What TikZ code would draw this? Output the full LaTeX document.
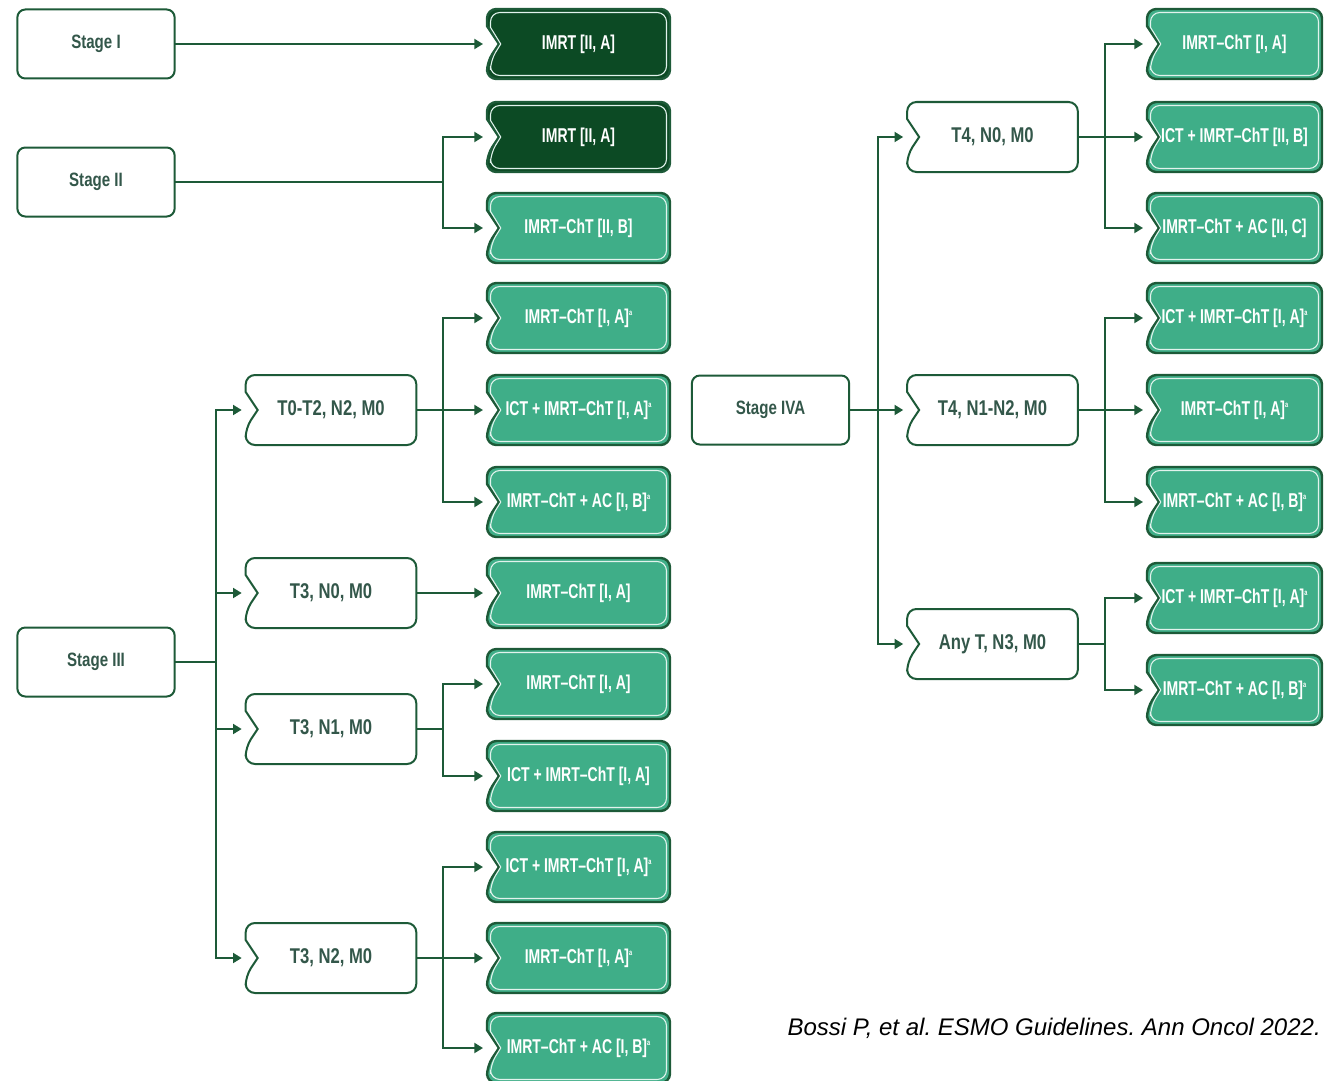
\documentclass[tikz,border=0pt]{standalone}
\usepackage{fontspec}
\setmainfont{Liberation Sans}[FakeStretch=0.78]
\newfontfamily\gfont{Liberation Sans}[FakeStretch=0.70]
\newfontfamily\citefont{Liberation Sans}
\usetikzlibrary{arrows.meta,calc,backgrounds}
\definecolor{lg}{HTML}{1D5A38}
\definecolor{darkfill}{HTML}{0C4A24}
\definecolor{gfill}{HTML}{3FAE88}
\definecolor{txtdark}{HTML}{33574A}
\newcommand\notchpath[2]{($(#1.west)+(#2,-18+0.4*#2)$) [rounded corners=7pt] -- ($(#1.north west)+(#2,#2)$) -- ($(#1.north east)+(-#2,#2)$) -- ($(#1.south east)+(-#2,-#2)$) -- ($(#1.south west)+(#2,-#2)$) -- ($(#1.west)+(#2,18-0.4*#2)$) [sharp corners] -- ($(#1.west)+(12+0.5*#2,0)$) -- cycle}
\newcommand\supa{\raisebox{0.75ex}{\fontsize{6}{6}\selectfont a}}
\begin{document}
\frenchspacing
\begin{tikzpicture}[x=0.75pt,y=-0.75pt,
  base/.style={rectangle,inner sep=0pt,outer sep=0pt,minimum height=52.5pt,align=center},
  stagebox/.style={base,draw=lg,line width=1.5pt,rounded corners=6pt,fill=white,text=txtdark,minimum width=118pt,minimum height=51.75pt,font=\bfseries\fontsize{14.5}{17}\selectfont},
  tbox/.style={base,text=txtdark,minimum width=128pt,font=\bfseries\fontsize{16}{18}\selectfont},
  gbox/.style={base,text=white,minimum width=137.25pt,font=\gfont\bfseries\fontsize{15}{17}\selectfont},
  rbox/.style={gbox,minimum width=131.25pt},
  conn/.style={draw=lg,line width=1.5pt},
  arr/.style={conn,-{Triangle[length=6.5pt,width=7.5pt]},shorten >=3pt}]
\useasboundingbox (0,0) rectangle (1324,1081);
% stage boxes
\node[stagebox] (s1) at (96,44) {Stage I};
\node[stagebox] (s2) at (96,182) {Stage II};
\node[stagebox] (s3) at (96,662) {Stage III};
\node[stagebox] (s4) at (770.5,410) {Stage IVA};
% left treatment column
\node[gbox] (a1) at (578.5,44) {IMRT [II, A]};
\node[gbox] (a2) at (578.5,137) {IMRT [II, A]};
\node[gbox] (a3) at (578.5,228) {IMRT–ChT [II, B]};
\node[gbox] (a4) at (578.5,318) {IMRT–ChT [I, A]\supa};
\node[gbox] (a5) at (578.5,410) {ICT + IMRT–ChT [I, A]\supa};
\node[gbox] (a6) at (578.5,502) {IMRT–ChT + AC [I, B]\supa};
\node[gbox] (a7) at (578.5,593) {IMRT–ChT [I, A]};
\node[gbox] (a8) at (578.5,684) {IMRT–ChT [I, A]};
\node[gbox] (a9) at (578.5,776) {ICT + IMRT–ChT [I, A]};
\node[gbox] (a10) at (578.5,867) {ICT + IMRT–ChT [I, A]\supa};
\node[gbox] (a11) at (578.5,958) {IMRT–ChT [I, A]\supa};
\node[gbox] (a12) at (578.5,1048) {IMRT–ChT + AC [I, B]\supa};
% left T boxes
\node[tbox] (t1) at (331,410) {T0-T2, N2, M0};
\node[tbox] (t2) at (331,593) {T3, N0, M0};
\node[tbox] (t3) at (331,729) {T3, N1, M0};
\node[tbox] (t4) at (331,958) {T3, N2, M0};
% right T boxes
\node[tbox] (r1) at (992.5,137) {T4, N0, M0};
\node[tbox] (r2) at (992.5,410) {T4, N1-N2, M0};
\node[tbox] (r3) at (992.5,644) {Any T, N3, M0};
% right treatment column
\node[rbox] (b1) at (1234.5,44) {IMRT–ChT [I, A]};
\node[rbox] (b2) at (1234.5,137) {ICT + IMRT–ChT [II, B]};
\node[rbox] (b3) at (1234.5,228) {IMRT–ChT + AC [II, C]};
\node[rbox] (b4) at (1234.5,318) {ICT + IMRT–ChT [I, A]\supa};
\node[rbox] (b5) at (1234.5,410) {IMRT–ChT [I, A]\supa};
\node[rbox] (b6) at (1234.5,502) {IMRT–ChT + AC [I, B]\supa};
\node[rbox] (b7) at (1234.5,598) {ICT + IMRT–ChT [I, A]\supa};
\node[rbox] (b8) at (1234.5,690) {IMRT–ChT + AC [I, B]\supa};
% citation
\node[anchor=east,font=\citefont\itshape\fontsize{18}{20}\selectfont,inner sep=0pt] (cite) at (1321,1028) {Bossi P, et al. ESMO Guidelines. Ann Oncol 2022.};
% outlines
\begin{pgfonlayer}{background}
\foreach \n in {t1,t2,t3,t4,r1,r2,r3} {
  \filldraw[fill=white,draw=lg,line width=1.5pt] \notchpath{\n}{0};
}
\foreach \n in {a1,a2} {
  \filldraw[fill=darkfill,draw=lg,line width=1.8pt] \notchpath{\n}{0};
  \draw[white!85!gfill,line width=0.8pt] \notchpath{\n}{3.5};
}
\foreach \n in {a3,a4,a5,a6,a7,a8,a9,a10,a11,a12,b1,b2,b3,b4,b5,b6,b7,b8} {
  \filldraw[fill=gfill,draw=lg,line width=1.8pt] \notchpath{\n}{0};
  \draw[white!85!gfill,line width=0.8pt] \notchpath{\n}{3.5};
}
\end{pgfonlayer}
% junctions
\coordinate (j2) at (443,182);
\coordinate (j3) at (216,662);
\coordinate (jt1) at (443,410);
\coordinate (jt3) at (443,729);
\coordinate (jt4) at (443,958);
\coordinate (j4) at (878,410);
\coordinate (jr1) at (1105,137);
\coordinate (jr2) at (1105,410);
\coordinate (jr3) at (1105,644);
% connectors
\draw[arr] (s1.east) -- (a1.west);
\draw[conn] (s2.east) -- (j2);
\draw[arr] (j2) |- (a2.west);
\draw[arr] (j2) |- (a3.west);
\draw[conn] (s3.east) -- (j3);
\foreach \t in {t1,t2,t3,t4} \draw[arr] (j3) |- (\t.west);
\draw[conn] (t1.east) -- (jt1);
\draw[arr] (jt1) |- (a4.west);
\draw[arr] (jt1) -- (a5.west);
\draw[arr] (jt1) |- (a6.west);
\draw[arr] (t2.east) -- (a7.west);
\draw[conn] (t3.east) -- (jt3);
\draw[arr] (jt3) |- (a8.west);
\draw[arr] (jt3) |- (a9.west);
\draw[conn] (t4.east) -- (jt4);
\draw[arr] (jt4) |- (a10.west);
\draw[arr] (jt4) -- (a11.west);
\draw[arr] (jt4) |- (a12.west);
\draw[arr] (s4.east) -- (r2.west);
\draw[arr] (j4) |- (r1.west);
\draw[arr] (j4) |- (r3.west);
\draw[conn] (r1.east) -- (jr1);
\draw[arr] (jr1) |- (b1.west);
\draw[arr] (jr1) -- (b2.west);
\draw[arr] (jr1) |- (b3.west);
\draw[conn] (r2.east) -- (jr2);
\draw[arr] (jr2) |- (b4.west);
\draw[arr] (jr2) -- (b5.west);
\draw[arr] (jr2) |- (b6.west);
\draw[conn] (r3.east) -- (jr3);
\draw[arr] (jr3) |- (b7.west);
\draw[arr] (jr3) |- (b8.west);
\end{tikzpicture}
\end{document}
